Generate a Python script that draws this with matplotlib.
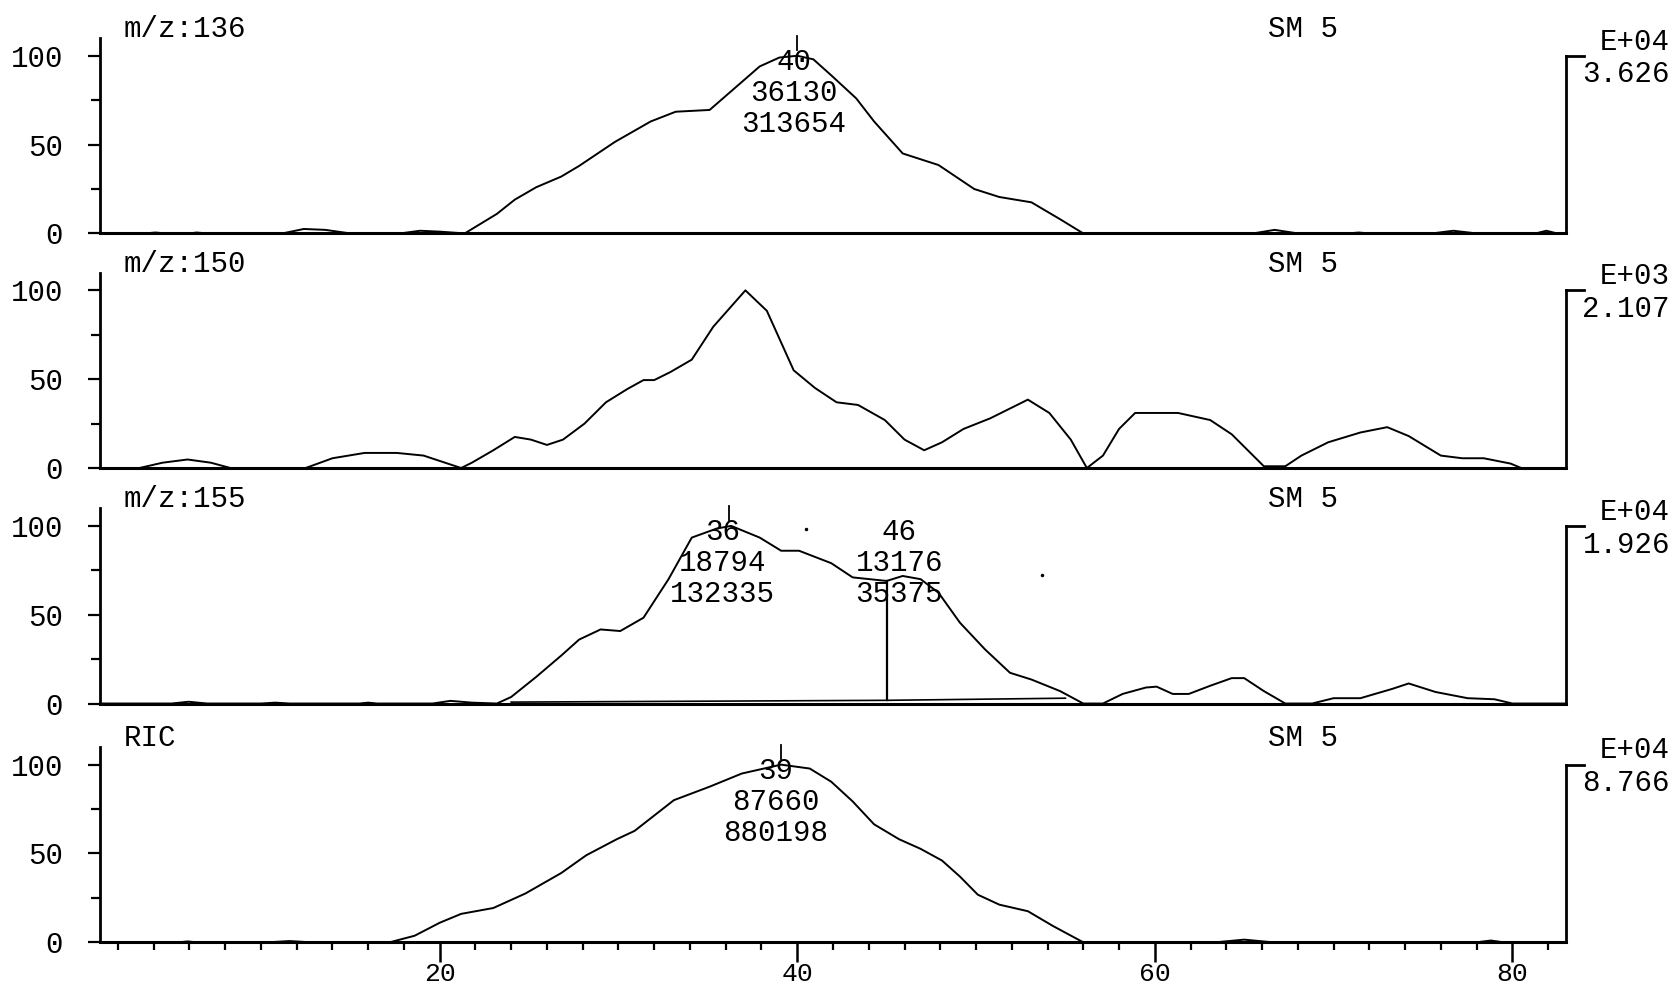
import matplotlib
matplotlib.use("Agg")
import matplotlib.pyplot as plt
from matplotlib.transforms import blended_transform_factory as btf

plt.rcParams['font.family'] = ['Liberation Mono', 'DejaVu Sans Mono']

# ---------------- data ----------------
titles = ["m/z:136", "m/z:150", "m/z:155", "RIC"]
smooth_labels = ["SM 5", "SM 5", "SM 5", "SM 5"]
scale_exp = ["E+04", "E+03", "E+04", "E+04"]
scale_val = ["3.626", "2.107", "1.926", "8.766"]

x1 = [1.0, 3.5, 4.1, 4.7, 6.0, 6.4, 7.0, 9.5, 11.2, 12.4, 13.6, 15.0, 17.8, 18.9, 20.0,
      21.4, 23.2, 24.2, 25.4, 26.8, 27.8, 29.8, 31.8, 33.2, 35.1, 36.3, 37.9, 39.0, 40.0,
      40.9, 41.9, 43.3, 44.3, 45.9, 47.9, 49.9, 51.3, 53.1, 54.7, 56.0, 65.5, 66.7, 68.0,
      70.8, 71.4, 72.0, 75.5, 76.7, 78.0, 81.3, 81.9, 82.5, 83.0]
y1 = [0, 0, 0.5, 0, 0, 0.5, 0, 0, 0, 2.5, 2, 0, 0, 1.5, 1,
      0, 11, 19, 26, 32, 38, 51.5, 63, 68.5, 69.5, 80, 94, 99, 100,
      98, 89, 76, 63, 45, 38.5, 25, 20.5, 17.5, 8, 0, 0, 2, 0,
      0, 0.5, 0, 0, 1.5, 0, 0, 1.5, 0, 0]

x2 = [1.0, 3.2, 4.5, 5.9, 7.2, 8.3, 12.5, 14.0, 15.8, 17.6, 19.1, 21.2, 21.8, 23.0, 24.2,
      25.1, 26.0, 26.9, 28.1, 29.3, 30.5, 31.4, 32.0, 32.9, 34.1, 35.3, 37.1, 38.3, 39.8,
      41.0, 42.2, 43.4, 44.9, 46.0, 47.1, 48.1, 49.3, 50.8, 52.0, 52.9, 54.1, 55.3, 56.2,
      57.1, 58.0, 58.9, 60.1, 61.3, 63.1, 64.3, 66.1, 67.3, 68.2, 69.7, 71.5, 73.0, 74.2,
      76.0, 77.2, 78.4, 79.9, 80.5, 83.0]
y2 = [0, 0, 3, 4.8, 3, 0, 0, 5.5, 8.5, 8.5, 7, 0, 3, 10, 17.5,
      16, 13, 16, 25, 37, 44.5, 49.5, 49.5, 54, 61, 79.5, 100, 88.5, 55,
      45, 37, 35.5, 27, 16, 10, 14.5, 22, 28, 34, 38.5, 31, 16, 0,
      7, 22, 31, 31, 31, 27, 19, 1, 1, 7, 14.5, 20, 23, 18,
      7, 5.5, 5.5, 2.5, 0, 0]

x3 = [1.0, 5.0, 5.95, 7.0, 10.0, 10.8, 11.6, 15.5, 16.0, 16.5, 19.6, 20.6, 21.8, 23.2,
      24.0, 25.4, 26.8, 27.8, 29.0, 30.1, 31.4, 32.8, 34.1, 35.5, 36.3, 37.9, 39.1, 40.1,
      41.9, 43.1, 45.0, 45.9, 46.9, 47.9, 49.1, 50.5, 51.9, 53.1, 54.7, 56.0, 57.1, 58.2,
      59.5, 60.1, 61.0, 61.9, 63.1, 64.3, 65.0, 66.1, 67.3, 68.8, 70.0, 71.5, 73.3, 74.2,
      75.7, 77.5, 79.0, 80.0, 83.0]
y3 = [0, 0, 1, 0, 0, 0.5, 0, 0, 0.5, 0, 0, 1.5, 0.5, 0,
      3.7, 15, 27, 36, 41.7, 40.8, 48.3, 70, 93.4, 98.5, 100, 93.4, 86, 86,
      79, 71, 69, 71.8, 70, 62.4, 45.5, 30.5, 17.3, 13.5, 7, 0, 0, 5.4,
      9, 9.5, 5.4, 5.4, 10, 14.3, 14.3, 7, 0, 0, 3, 3, 8.3, 11.3,
      6.5, 3, 2.4, 0, 0]

x4 = [1.0, 5.4, 5.9, 6.4, 10.4, 11.6, 12.8, 17.2, 18.6, 20.0, 21.2, 23.0, 24.8, 26.8,
      28.2, 29.9, 30.9, 33.1, 35.1, 36.9, 39.1, 40.7, 41.9, 43.1, 44.3, 45.7, 46.9, 48.1,
      49.1, 50.1, 51.3, 52.9, 54.3, 56.0, 63.4, 65.0, 66.6, 78.0, 78.8, 79.5, 83.0]
y4 = [0, 0, 0.5, 0, 0, 0.7, 0, 0, 3.7, 11, 16, 19.3, 27.5, 39,
      49, 58, 62.7, 80, 87.6, 95, 100, 97.8, 90.4, 79.3, 66.4, 58, 52.6, 46,
      37, 26.8, 21.2, 17.5, 9.2, 0, 0, 1.5, 0, 0, 1, 0, 0]

xs = [x1, x2, x3, x4]
ys = [y1, y2, y3, y4]

# peak annotations
peak_panel = [0, 2, 2, 3]
peak_x = [39.8, 35.8, 45.7, 38.8]
peak_tick = [40.0, 36.2, None, 39.1]
peak_text = [["40", "36130", "313654"],
             ["36", "18794", "132335"],
             ["46", "13176", "35375"],
             ["39", "87660", "880198"]]
peak_text_y = [96.5, 79, 61.5]

# integration baseline and drop line in m/z:155
base3_x = [24.0, 45.0, 55.0]
base3_y = [0.8, 1.8, 3.0]
drop3_x = 45.0
drop3_top = 69
dots3_x = [40.5, 53.7]
dots3_y = [98, 72.6]

x_major = [20, 40, 60, 80]
x_minor = list(range(2, 83, 2))

# ---------------- layout ----------------
FS = 21
fig = plt.figure(figsize=(16.79, 9.92), dpi=100)
L = 100 / 1679
W = 1566 / 1679 - L
bottoms = [0.7647, 0.5282, 0.2908, 0.0501]
H = 0.197
XLIM = (1.0, 83.0)

for i in range(4):
    ax = fig.add_axes([L, bottoms[i], W, H])
    ax.set_xlim(*XLIM)
    ax.set_ylim(0, 110)
    ax.plot(xs[i], ys[i], color='black', lw=1.4, clip_on=False)
    for s in ['top', 'right']:
        ax.spines[s].set_visible(False)
    ax.spines['left'].set_linewidth(2)
    ax.spines['bottom'].set_linewidth(2.2)
    ax.set_yticks([0, 50, 100])
    ax.set_yticklabels(["0", "50", "100"])
    ax.set_yticks([25, 75], minor=True)
    ax.tick_params(axis='y', which='major', direction='out', length=8.6, width=1.6,
                   labelsize=FS, pad=18)
    ax.tick_params(axis='y', which='minor', direction='out', length=6.5, width=1.6)
    if i < 3:
        ax.set_xticks([])
    else:
        ax.set_xticks(x_major)
        ax.set_xticklabels([str(v) for v in x_major])
        ax.set_xticks(x_minor, minor=True)
        ax.tick_params(axis='x', which='major', direction='out', length=14.5, width=1.8,
                       labelsize=19, pad=0)
        ax.tick_params(axis='x', which='minor', direction='out', length=6, width=1.6)

    # right-hand scale bracket
    yt = ax.get_yaxis_transform()
    ax.plot([1, 1], [0, 100], transform=yt, color='black', lw=2, clip_on=False)
    ax.plot([1, 1.0125], [100, 100], transform=yt, color='black', lw=2, clip_on=False)

    ft = btf(fig.transFigure, ax.transData)
    ax.text(0.9946, 108, scale_exp[i], transform=ft, ha='right', va='center', fontsize=FS)
    ax.text(0.9946, 89.5, scale_val[i], transform=ft, ha='right', va='center', fontsize=FS)
    ax.text(0.0738, 115, titles[i], transform=ft, ha='left', va='center', fontsize=FS)
    ax.text(0.755, 115, smooth_labels[i], transform=ft, ha='left', va='center', fontsize=FS)

    for k in range(len(peak_panel)):
        if peak_panel[k] != i:
            continue
        for line, ty in zip(peak_text[k], peak_text_y):
            ax.text(peak_x[k], ty, line, ha='center', va='center', fontsize=FS)
        if peak_tick[k] is not None:
            ax.plot([peak_tick[k], peak_tick[k]], [103, 111], color='black', lw=1.3,
                    clip_on=False)

    if i == 2:
        ax.plot(base3_x, base3_y, color='black', lw=1.2)
        ax.plot([drop3_x, drop3_x], [base3_y[1], drop3_top], color='black', lw=1.6)
        ax.plot(dots3_x, dots3_y, 'k.', ms=3)

fig.savefig("out.png", dpi=100)
